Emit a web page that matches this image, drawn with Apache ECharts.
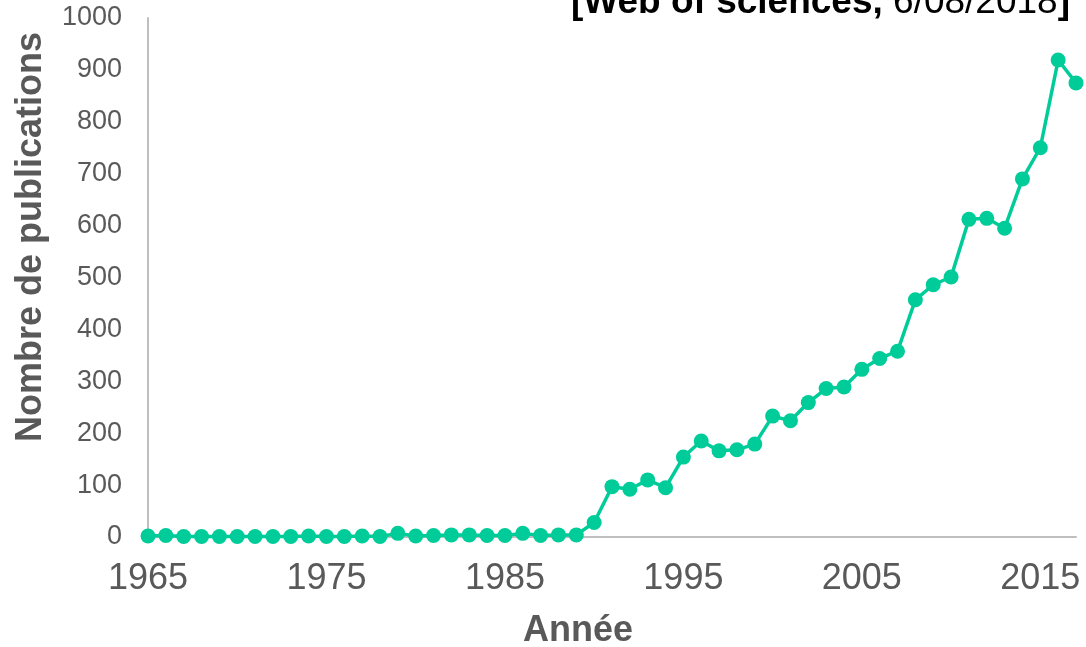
<!DOCTYPE html>
<html>
<head>
<meta charset="utf-8">
<script src="https://cdn.jsdelivr.net/npm/echarts@6/dist/echarts.min.js"></script>
<style>
html,body{margin:0;padding:0;background:#fff;}
#chart{width:1086px;height:647px;}
</style>
</head>
<body>
<div id="chart"></div>
<script>
const years = ['1965','1966','1967','1968','1969','1970','1971','1972','1973','1974',
  '1975','1976','1977','1978','1979','1980','1981','1982','1983','1984',
  '1985','1986','1987','1988','1989','1990','1991','1992','1993','1994',
  '1995','1996','1997','1998','1999','2000','2001','2002','2003','2004',
  '2005','2006','2007','2008','2009','2010','2011','2012','2013','2014',
  '2015','2016','2017'];
const publications = [2,3,1,1,1,1,1,1,1,2,
  1,1,2,1,7,2,3,4,4,3,
  3,7,3,4,4,28,97,92,110,95,
  154,185,166,168,179,233,224,259,286,289,
  323,344,358,457,486,501,612,614,595,690,
  750,919,875];
const yTicks = {min:0, max:1000, interval:100};
const titleBold = '[Web of sciences,';
const titleDate = ' 6/08/2018';
const titleEnd = ']';
const yName = 'Nombre de publications';
const xName = 'Année';

const chart = echarts.init(document.getElementById('chart'));
const FONT = '"Liberation Sans", Arial, sans-serif';
chart.setOption({
  animation:false,
  backgroundColor:'#ffffff',
  grid:{left:148,right:10,top:18,bottom:110,containLabel:false},
  xAxis:{
    type:'category',
    data:years,
    boundaryGap:false,
    axisLine:{show:true,lineStyle:{color:'#bfbfbf',width:2}},
    axisTick:{show:false},
    axisLabel:{interval:9,color:'#595959',fontSize:36,fontFamily:FONT,margin:24},
    splitLine:{show:false}
  },
  yAxis:{
    type:'value',
    min:yTicks.min,max:yTicks.max,interval:yTicks.interval,
    axisLine:{show:true,lineStyle:{color:'#bfbfbf',width:2}},
    axisTick:{show:false},
    axisLabel:{color:'#595959',fontSize:27,fontFamily:FONT,margin:26,formatter:function(v){return String(v);}},
    splitLine:{show:false}
  },
  graphic:[
    {type:'text',x:1070,y:21,style:{
      text:'{b|'+titleBold+'}{n|'+titleDate+'}{b|'+titleEnd+'}',
      align:'right',verticalAlign:'bottom',
      rich:{
        b:{fontSize:37,fontWeight:'bold',fontFamily:FONT,fill:'#000'},
        n:{fontSize:37,fontWeight:'normal',fontFamily:FONT,fill:'#000'}
      }
    }},
    {type:'text',x:31,y:237,rotation:Math.PI/2,style:{
      text:yName,align:'center',verticalAlign:'middle',
      font:'bold 36px '+FONT,fill:'#595959'
    }},
    {type:'text',x:578,y:631,style:{
      text:xName,align:'center',verticalAlign:'middle',
      font:'bold 36px '+FONT,fill:'#595959'
    }}
  ],
  series:[{
    type:'line',
    data:publications,
    symbol:'circle',
    symbolSize:15,
    showAllSymbol:true,
    lineStyle:{color:'#00cc99',width:3.5},
    itemStyle:{color:'#00cc99'},
    clip:false
  }]
});
</script>
</body>
</html>
